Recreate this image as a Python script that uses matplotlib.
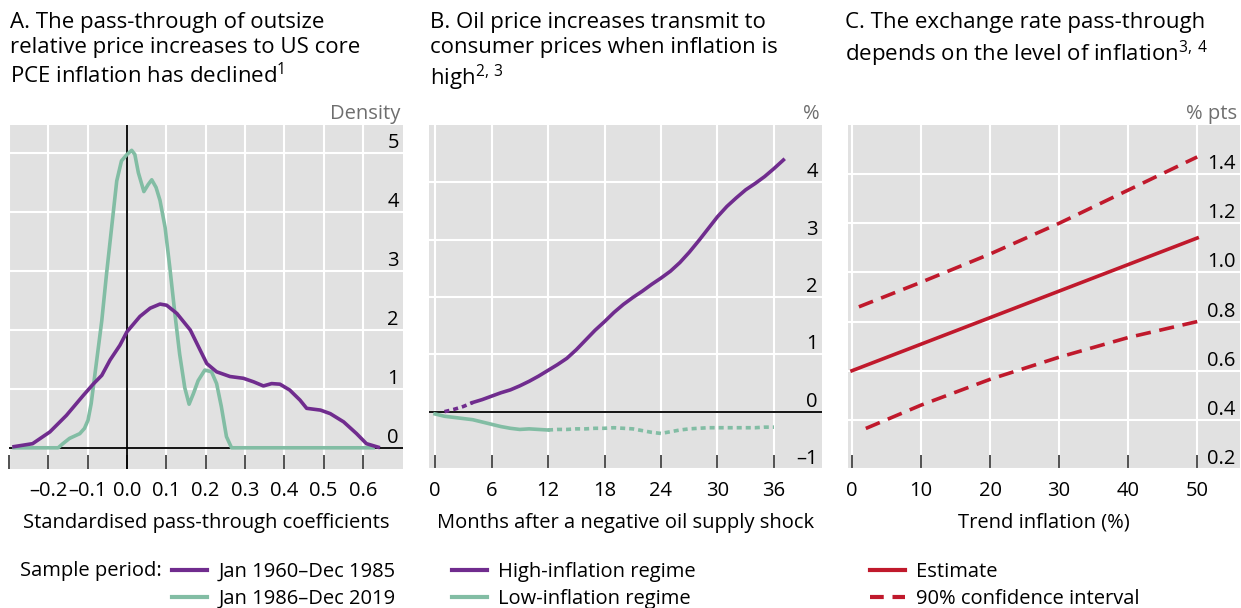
import matplotlib.pyplot as plt
from matplotlib.lines import Line2D

plt.rcParams['font.family'] = ['Open Sans', 'DejaVu Sans']
plt.rcParams['mathtext.fontset'] = 'custom'
plt.rcParams['mathtext.rm'] = 'Open Sans'
plt.rcParams['mathtext.default'] = 'regular'

PURPLE = '#702C8E'
GREEN = '#82BDA4'
RED = '#C0192C'
BG = '#E1E1E1'
FS = 14.5

# Panel A: kernel densities of pass-through coefficients
a_early_x = [-0.287, -0.240, -0.196, -0.154, -0.111, -0.086, -0.064, -0.043, -0.018, 0.0,
             0.033, 0.059, 0.084, 0.101, 0.127, 0.161, 0.186, 0.203, 0.228, 0.262,
             0.296, 0.322, 0.347, 0.368, 0.389, 0.414, 0.440, 0.457, 0.492, 0.517,
             0.551, 0.584, 0.609, 0.639]
a_early_y = [0.02, 0.07, 0.27, 0.55, 0.89, 1.08, 1.23, 1.49, 1.74, 1.97,
             2.23, 2.37, 2.44, 2.42, 2.28, 2.00, 1.66, 1.43, 1.29, 1.21,
             1.18, 1.12, 1.05, 1.09, 1.08, 0.98, 0.81, 0.67, 0.64, 0.58,
             0.44, 0.24, 0.07, 0.01]
a_late_x = [-0.287, -0.175, -0.163, -0.146, -0.120, -0.108, -0.099, -0.091, -0.078, -0.064,
            -0.052, -0.039, -0.026, -0.014, 0.0, 0.012, 0.020, 0.029, 0.043, 0.054,
            0.063, 0.074, 0.084, 0.097, 0.109, 0.122, 0.134, 0.147, 0.158, 0.169,
            0.181, 0.198, 0.215, 0.228, 0.240, 0.253, 0.266, 0.626]
a_late_y = [0, 0, 0.07, 0.16, 0.24, 0.33, 0.47, 0.75, 1.43, 2.16,
            2.95, 3.74, 4.53, 4.87, 4.98, 5.05, 4.98, 4.67, 4.35, 4.47,
            4.55, 4.42, 4.20, 3.74, 3.06, 2.27, 1.59, 1.02, 0.74, 0.92,
            1.14, 1.32, 1.29, 1.09, 0.70, 0.19, 0, 0]
a_xticks = [-0.3, -0.2, -0.1, 0.0, 0.1, 0.2, 0.3, 0.4, 0.5, 0.6]
a_xlabels = ['', '–0.2', '–0.1', '0.0', '0.1', '0.2', '0.3', '0.4', '0.5', '0.6']
a_yticks = [0, 1, 2, 3, 4, 5]

# Panel B: impulse responses to an oil supply shock
b_high_months = list(range(1, 38))
b_high_vals = [0.00, 0.04, 0.09, 0.16, 0.21, 0.27, 0.33, 0.38, 0.45, 0.53,
               0.62, 0.72, 0.82, 0.93, 1.08, 1.25, 1.42, 1.57, 1.73, 1.87,
               1.99, 2.10, 2.22, 2.33, 2.45, 2.60, 2.78, 2.98, 3.19, 3.40,
               3.58, 3.73, 3.87, 3.98, 4.10, 4.24, 4.39]
b_high_sig_from = 4   # month from which the response is significant
b_low_months = list(range(0, 37))
b_low_vals = [-0.04, -0.08, -0.10, -0.12, -0.14, -0.18, -0.22, -0.26, -0.29, -0.31,
              -0.30, -0.31, -0.32, -0.31, -0.31, -0.30, -0.30, -0.29, -0.29, -0.28,
              -0.29, -0.30, -0.33, -0.36, -0.38, -0.35, -0.32, -0.30, -0.29, -0.28,
              -0.28, -0.28, -0.28, -0.28, -0.28, -0.27, -0.27]
b_low_sig_to = 12     # month up to which the response is significant
b_xticks = [0, 6, 12, 18, 24, 30, 36]
b_yticks = [-1, 0, 1, 2, 3, 4]

# Panel C: exchange rate pass-through vs trend inflation
c_est_x = [0, 50]
c_est_y = [0.60, 1.14]
c_up_x = [1, 10, 20, 30, 40, 50]
c_up_y = [0.86, 0.96, 1.075, 1.20, 1.335, 1.47]
c_lo_x = [2, 10, 20, 30, 40, 50]
c_lo_y = [0.365, 0.46, 0.565, 0.655, 0.735, 0.80]
c_xticks = [0, 10, 20, 30, 40, 50]
c_yticks = [0.2, 0.4, 0.6, 0.8, 1.0, 1.2, 1.4]

W, H = 1241, 608
fig = plt.figure(figsize=(W / 100, H / 100), dpi=100)


def make_panel(left, right, xlim, ylim, xticks, xlabels, yticks, ylabels, unit, xlabel):
    ax = fig.add_axes([left / W, (H - 469) / H, (right - left) / W, 344 / H])
    ax.set_facecolor(BG)
    for s in ax.spines.values():
        s.set_visible(False)
    ax.set_xlim(*xlim)
    ax.set_ylim(*ylim)
    ax.set_xticks(xticks)
    ax.set_xticklabels(xlabels, fontsize=FS)
    ax.yaxis.tick_right()
    ax.set_yticks(yticks)
    ax.set_yticklabels(ylabels, fontsize=FS, ha='right', va='bottom')
    ax.tick_params(axis='y', length=0, pad=-3)
    ax.tick_params(axis='x', direction='in', length=10, width=1.1, color='#222222', pad=9)
    ax.grid(True, color='white', linewidth=1.5)
    ax.set_axisbelow(True)
    ax.set_xlabel(xlabel, fontsize=FS, labelpad=8)
    ax.text(0.993, 1 + 6 / 344, unit, transform=ax.transAxes, ha='right', va='baseline',
            fontsize=FS, color='#6E6E6E')
    return ax


def fmt(v):
    return f'{v:g}'.replace('-', '–')


# Panel A
ax1 = make_panel(9, 403, (-0.3, 0.702), (-0.36, 5.48), a_xticks, a_xlabels,
                 a_yticks, [fmt(v) for v in a_yticks], 'Density',
                 'Standardised pass-through coefficients')
ax1.axhline(0, color='black', lw=1.3)
ax1.axvline(0, color='black', lw=1.3)
ax1.plot(a_late_x, a_late_y, color=GREEN, lw=2.6, solid_joinstyle='round')
ax1.plot(a_early_x, a_early_y, color=PURPLE, lw=2.6, solid_joinstyle='round')

# Panel B
ax2 = make_panel(429, 822, (-0.64, 41.1), (-1, 5), b_xticks, [str(v) for v in b_xticks],
                 b_yticks, [fmt(v) for v in b_yticks], '%',
                 'Months after a negative oil supply shock')
ax2.axhline(0, color='black', lw=1.3)
dots = (0, (1.4, 1.1))
k = b_high_months.index(b_high_sig_from)
ax2.plot(b_high_months[:k + 1], b_high_vals[:k + 1], color=PURPLE, lw=2.6, ls=dots)
ax2.plot(b_high_months[k:], b_high_vals[k:], color=PURPLE, lw=2.6)
j = b_low_months.index(b_low_sig_to)
ax2.plot(b_low_months[:j + 1], b_low_vals[:j + 1], color=GREEN, lw=2.6)
ax2.plot(b_low_months[j:], b_low_vals[j:], color=GREEN, lw=2.6, ls=dots)

# Panel C
ax3 = make_panel(848, 1240, (-0.58, 56.2), (0.2, 1.6), c_xticks, [str(v) for v in c_xticks],
                 c_yticks, [f'{v:.1f}' for v in c_yticks], '% pts', 'Trend inflation (%)')
dash = (0, (4.2, 2.4))
ax3.plot(c_est_x, c_est_y, color=RED, lw=2.6)
ax3.plot(c_up_x, c_up_y, color=RED, lw=2.6, ls=dash)
ax3.plot(c_lo_x, c_lo_y, color=RED, lw=2.6, ls=dash)

# Titles
titles = [
    (10, 'A. The pass-through of outsize\nrelative price increases to US core\nPCE inflation has declined$^{1}$'),
    (430, 'B. Oil price increases transmit to\nconsumer prices when inflation is\nhigh$^{2,\\,3}$'),
    (845, 'C. The exchange rate pass-through\ndepends on the level of inflation$^{3,\\,4}$'),
]
for x, t in titles:
    fig.text(x / W, 1 - 12 / H, t, fontsize=16, va='top', ha='left', linespacing=1.24)

# Legends
leg_kw = dict(loc='upper left', bbox_transform=fig.transFigure, frameon=False,
              handlelength=1.75, handletextpad=0.55, labelspacing=0.35, borderpad=0,
              borderaxespad=0, fontsize=FS)
fig.text(20 / W, 1 - 571 / H, 'Sample period:', fontsize=FS, va='center', ha='left')
ax1.legend([Line2D([], [], color=PURPLE, lw=3), Line2D([], [], color=GREEN, lw=3)],
           ['Jan 1960–Dec 1985', 'Jan 1986–Dec 2019'],
           bbox_to_anchor=(172 / W, 1 - 562 / H), **leg_kw)
ax2.legend([Line2D([], [], color=PURPLE, lw=3), Line2D([], [], color=GREEN, lw=3)],
           ['High-inflation regime', 'Low-inflation regime'],
           bbox_to_anchor=(452 / W, 1 - 562 / H), **leg_kw)
ax3.legend([Line2D([], [], color=RED, lw=3),
            Line2D([], [], color=RED, lw=3, ls=(0, (3.3, 2.1)))],
           ['Estimate', '90% confidence interval'],
           bbox_to_anchor=(870 / W, 1 - 562 / H), **leg_kw)

fig.savefig('out.png', dpi=100)
